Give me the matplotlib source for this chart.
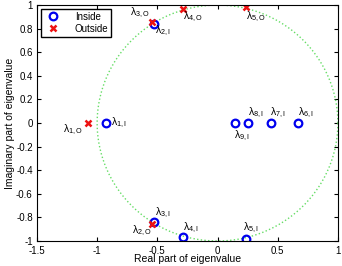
import numpy as np
import matplotlib
matplotlib.use('Agg')
from matplotlib import pyplot as plt

plt.rcParams['font.family'] = ['Liberation Sans', 'DejaVu Sans']
plt.rcParams['mathtext.default'] = 'regular'

# eigenvalues inside the unit circle
in_re = [-0.93, -0.53, -0.53, -0.285, 0.24, 0.67, 0.447, 0.255, 0.147]
in_im = [0.0, 0.84, -0.84, -0.966, -0.98, 0.0, 0.0, 0.0, 0.0]
in_names = ['1,I', '2,I', '3,I', '4,I', '5,I', '6,I', '7,I', '8,I', '9,I']

# eigenvalues outside
out_re = [-1.076, -0.543, -0.543, -0.285, 0.24]
out_im = [0.0, -0.86, 0.856, 0.966, 0.98]
out_names = ['1,O', '2,O', '3,O', '4,O', '5,O']

# label anchor (x, y, ha)
in_lab = [(-0.885, 0.0, 'left'), (-0.52, 0.78, 'left'),
          (-0.52, -0.76, 'left'), (-0.285, -0.89, 'left'),
          (0.215, -0.89, 'left'), (0.665, 0.09, 'left'),
          (0.44, 0.09, 'left'), (0.25, 0.09, 'left'),
          (0.135, -0.11, 'left')]
out_lab = [(-1.12, -0.06, 'right'), (-0.545, -0.91, 'right'),
           (-0.56, 0.93, 'right'), (-0.285, 0.9, 'left'),
           (0.235, 0.9, 'left')]

fig = plt.figure(figsize=(3.42, 2.66), dpi=100)
ax = fig.add_axes([0.108, 0.094, 0.88, 0.887])

t = np.linspace(0, 2 * np.pi, 400)
ax.plot(np.cos(t), np.sin(t), ':', color='#66dd66', lw=1.0)

ax.plot(in_re, in_im, 'o', mfc='none', mec='#0000ee', mew=1.6, ms=5.5, ls='none', label='Inside')
ax.plot(out_re, out_im, 'x', color='#ee1111', mew=1.8, ms=3.8, ls='none', label='Outside')

for (x, y, ha), n in zip(in_lab, in_names):
    ax.text(x, y, r'$\lambda_{' + n + '}$', fontsize=7.5, ha=ha, va='center')
for (x, y, ha), n in zip(out_lab, out_names):
    ax.text(x, y, r'$\lambda_{' + n + '}$', fontsize=7.5, ha=ha, va='center')

ax.set_xlim(-1.5, 1)
ax.set_ylim(-1, 1)
ax.set_xticks(np.arange(-1.5, 1.01, 0.5))
ax.set_yticks(np.arange(-1, 1.01, 0.2))
ax.set_xticklabels(['-1.5', '-1', '-0.5', '0', '0.5', '1'])
ax.set_yticklabels(['-1', '-0.8', '-0.6', '-0.4', '-0.2', '0', '0.2', '0.4', '0.6', '0.8', '1'])
ax.tick_params(direction='in', top=True, right=True, labelsize=7, length=3)
ax.tick_params(axis='x', pad=3.5)
ax.tick_params(axis='y', pad=3)
ax.set_xlabel('Real part of eigenvalue', fontsize=7.5, labelpad=-1)
ax.set_ylabel('Imaginary part of eigenvalue', fontsize=7.5, labelpad=1)

ax.legend(loc='upper left', fontsize=7, fancybox=False, edgecolor='k',
          framealpha=1, borderaxespad=0.4, handletextpad=1.2, borderpad=0.3,
          labelspacing=0.2)

fig.savefig('out.png', dpi=100)
